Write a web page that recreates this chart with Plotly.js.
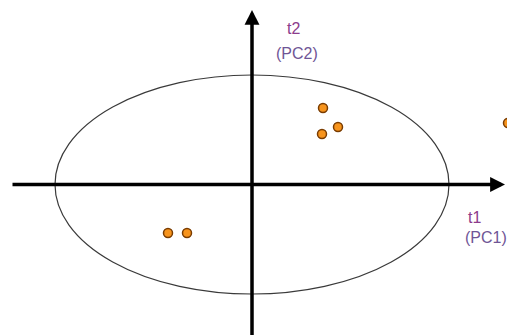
<!DOCTYPE html>
<html>
<head>
<meta charset="utf-8">
<script src="https://cdn.plot.ly/plotly-3.0.1.min.js"></script>
<style>
  html, body { margin: 0; padding: 0; background: #fff; }
  #chart { width: 507px; height: 335px; }
</style>
</head>
<body>
<div id="chart"></div>
<script>
// Observation scores on the first two principal components
const t1Scores = [1.42, 1.40, 1.72, 5.12, -1.68, -1.30];
const t2Scores = [1.53, 1.01, 1.15, 1.23, -0.97, -0.97];

// Confidence ellipse (semi-axes along t1 and t2)
const ellipseCenter = [0, 0];
const ellipseRadii = [3.94, 2.19];

// Axis extents and labels
const t1Extent = [-4.82, 5.06];
const t2Extent = [-3.2, 3.49];
const axisNames = ['t1', 't2'];
const axisSubNames = ['(PC1)', '(PC2)'];

const pointTrace = {
  type: 'scatter',
  mode: 'markers',
  x: t1Scores,
  y: t2Scores,
  cliponaxis: true,
  marker: {
    size: 9,
    color: '#f7941d',
    line: { color: '#7a3c00', width: 1.5 }
  },
  hoverinfo: 'x+y'
};

const labelFont = { family: 'Liberation Sans, Arial, sans-serif', size: 16 };
const nameColor = '#8c3c8c';
const subColor = '#6f5596';

const layout = {
  width: 507,
  height: 335,
  margin: { l: 0, r: 0, t: 0, b: 0 },
  paper_bgcolor: '#ffffff',
  plot_bgcolor: '#ffffff',
  showlegend: false,
  xaxis: {
    range: [-5.04, 5.10],
    showgrid: false, zeroline: false, showticklabels: false, showline: false, ticks: ''
  },
  yaxis: {
    range: [-3.01, 3.69],
    showgrid: false, zeroline: false, showticklabels: false, showline: false, ticks: ''
  },
  shapes: [
    {
      type: 'circle',
      xref: 'x', yref: 'y',
      x0: ellipseCenter[0] - ellipseRadii[0],
      x1: ellipseCenter[0] + ellipseRadii[0],
      y0: ellipseCenter[1] - ellipseRadii[1],
      y1: ellipseCenter[1] + ellipseRadii[1],
      line: { color: '#3a3a3a', width: 1.2 },
      fillcolor: 'rgba(0,0,0,0)',
      layer: 'below'
    }
  ],
  annotations: [
    // t1 axis arrow
    {
      x: t1Extent[1], y: 0, ax: t1Extent[0], ay: 0,
      xref: 'x', yref: 'y', axref: 'x', ayref: 'y',
      text: '', showarrow: true,
      arrowhead: 2, arrowsize: 0.85, arrowwidth: 3.5, arrowcolor: '#000000'
    },
    // t2 axis arrow
    {
      x: 0, y: t2Extent[1], ax: 0, ay: t2Extent[0],
      xref: 'x', yref: 'y', axref: 'x', ayref: 'y',
      text: '', showarrow: true,
      arrowhead: 2, arrowsize: 0.85, arrowwidth: 3.5, arrowcolor: '#000000'
    },
    { x: 4.44, y: -0.65, xref: 'x', yref: 'y', text: axisNames[0], showarrow: false,
      font: Object.assign({ color: nameColor }, labelFont) },
    { x: 4.68, y: -1.05, xref: 'x', yref: 'y', text: axisSubNames[0], showarrow: false,
      font: Object.assign({ color: subColor }, labelFont) },
    { x: 0.83, y: 3.13, xref: 'x', yref: 'y', text: axisNames[1], showarrow: false,
      font: Object.assign({ color: nameColor }, labelFont) },
    { x: 0.90, y: 2.63, xref: 'x', yref: 'y', text: axisSubNames[1], showarrow: false,
      font: Object.assign({ color: subColor }, labelFont) }
  ]
};

Plotly.newPlot('chart', [pointTrace], layout, { displayModeBar: false, staticPlot: true });
</script>
</body>
</html>
